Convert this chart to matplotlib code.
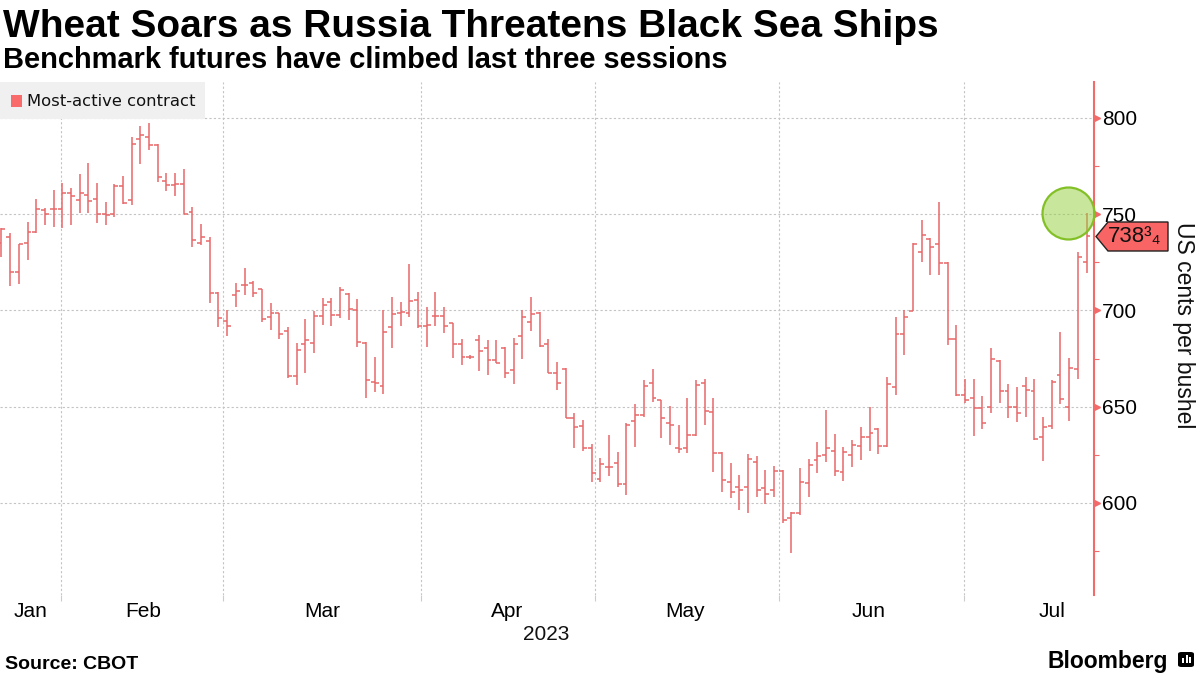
import matplotlib
matplotlib.use('Agg')
import matplotlib.pyplot as plt
from matplotlib.patches import Polygon, Rectangle, FancyBboxPatch
import numpy as np

# ---------------- data (US cents per bushel, most-active CBOT wheat) -------------
opens = [735, 738, 719.8, 735.2, 741, 752.2, 752.7, 752.7, 760.9, 757.4,
         760, 757.8, 750, 750, 764.7, 757.4, 788.9, 790.3, 786.2, 767.3,
         765.2, 765.7, 751.4, 735.2, 736, 708.9, 694.5, 708, 713.2, 714.5,
         711, 696.4, 698.5, 689.5, 666, 682.4, 683.3, 697.1, 704.2, 697.6,
         708.4, 700.3, 683, 663, 661, 691.3, 698.9, 698.9, 705.5, 692,
         697.1, 697.1, 693.7, 682.4, 676, 684.7, 680.4, 674.3, 680.4, 669.1,
         686.8, 694.2, 698.9, 682.4, 667.7, 669.4, 644, 640, 628.4, 612.3,
         618.9, 620.6, 609.9, 642.8, 645.7, 662.2, 653.5, 641.7, 628.4, 628.4,
         635.3, 662.5, 647.4, 625.8, 611.1, 608.5, 608.1, 621.5, 607.6, 606.7,
         616.8, 592, 594.6, 610.6, 622.3, 625, 627.2, 616.3, 625, 629.6,
         634.5, 638.3, 629.6, 660.1, 687.8, 699.9, 730.6, 737, 734.5, 724.8,
         685, 656.1, 654.4, 649.2, 650, 673.9, 658.4, 650, 660.8, 658.4,
         634.1, 640, 666.5, 649.7, 669.4, 725.4]
highs = [742.7, 740.4, 734.5, 746.2, 757.8, 753, 762.6, 766.4, 763.5, 770.7,
         776.8, 766.4, 756.5, 765.7, 770, 790, 795.8, 797.2, 786.3, 771.3,
         771.3, 773.3, 754, 745, 738, 709.8, 700, 714.5, 721.9, 715.5,
         711, 703.7, 698.5, 691.2, 683.3, 695.6, 699.9, 706.3, 706.3, 712.4,
         708.9, 705.8, 683.8, 675.7, 700.3, 706.8, 704.6, 724.2, 709.8, 702,
         709.8, 701.6, 693.7, 685, 677, 687.3, 684.7, 684.7, 681.2, 685.5,
         700.3, 706.8, 699.4, 685, 673.4, 670, 646.9, 643.1, 630.6, 623.2,
         635.3, 626.7, 641.7, 651.4, 663.9, 669.4, 653.5, 650.4, 640.5, 654.4,
         663.9, 664.2, 654.4, 626.7, 621, 614.5, 625.5, 624.4, 617.1, 619.2,
         617.1, 595.5, 618, 622.7, 631.9, 648.3, 635.8, 629.3, 632.7, 639.3,
         650, 638.8, 665.3, 696.8, 700.3, 735.2, 747, 737.5, 756.5, 725.4,
         692.5, 664.2, 664.2, 655.6, 680.4, 674.3, 661.8, 660.1, 665.3, 664.2,
         644.9, 663.9, 689, 675.1, 730.6, 750.5]
lows = [728, 712.7, 714, 726.2, 740.4, 744.4, 743.2, 742.7, 744.4, 750.5,
        750.5, 745.3, 744.4, 748.8, 755.2, 754.8, 776.1, 783.4, 766.9, 762.1,
        759.5, 750.1, 733.2, 734, 703.7, 691.2, 686.7, 702, 708, 706.8,
        694.2, 689.9, 685, 664.8, 661.3, 667.7, 677.7, 692.5, 692, 695.9,
        695, 680.9, 654.4, 657.8, 656.6, 680.4, 692, 696.8, 690.7, 681.2,
        692, 688.5, 675.1, 671.7, 675, 668.7, 666.5, 672.6, 664.8, 661.8,
        674.6, 689.5, 681.2, 667.7, 658.7, 644, 628.4, 627.2, 610.7, 611.1,
        614.2, 608.5, 604.2, 629.3, 644.5, 652.6, 633.6, 630.1, 625.8, 626.1,
        634.8, 640.5, 616.3, 605.9, 602.4, 596.4, 594.6, 602.9, 599.5, 602.9,
        589.4, 573.9, 593.8, 602.9, 615.8, 621.5, 614, 611.6, 618.9, 622.3,
        627.2, 625.5, 629.3, 656.1, 676.9, 699.9, 725.4, 718.4, 718.4, 682.1,
        655.6, 652.1, 634.8, 638.3, 646.6, 652.1, 644, 642.3, 644.9, 632.7,
        622, 638.3, 651.4, 642.8, 664.2, 719.3]
closes = [742.2, 719.8, 734.4, 741, 752.6, 750, 752.7, 760.9, 759.7, 760.9,
          756.9, 750, 749.6, 764.7, 755.7, 786.3, 791.2, 786.2, 769.2, 765.2,
          765.7, 750.1, 736.6, 738.4, 708.9, 695.9, 692, 710.1, 713.2, 709.3,
          695.6, 698.5, 687.6, 666, 679.5, 684.7, 697.1, 702.8, 697.6, 710.6,
          700.6, 683.6, 663.9, 662.2, 689, 698, 699.4, 705, 692, 692.5,
          697.1, 692, 682.4, 676, 676, 679, 674.3, 672.9, 667.7, 682.4,
          696.8, 698.2, 681.6, 667.7, 662.5, 644, 639.6, 628.4, 615.4, 620.3,
          618.9, 609.9, 640.5, 645.7, 660.8, 654.4, 644, 640.5, 627.9, 635.3,
          661.3, 648, 625.8, 612, 605.5, 606.7, 622.7, 606.7, 604.7, 616.8,
          591.2, 595, 611.1, 619.7, 624.4, 628.4, 616.8, 626.7, 630.1, 634.1,
          636.2, 629.6, 661.8, 687.8, 696.5, 734.5, 739.2, 733.2, 724.8, 685,
          656.1, 653.5, 649.2, 641.7, 674.6, 658.4, 649.7, 646.9, 658.7, 633.1,
          639.7, 663, 653.9, 670, 727.6, 738.75]

month_labels = ['Jan', 'Feb', 'Mar', 'Apr', 'May', 'Jun', 'Jul']
month_label_pos = [3.3, 16.3, 36.9, 58.2, 78.7, 99.9, 121.0]   # bar-index units
month_starts = [6.85, 25.5, 48.3, 68.4, 89.6, 110.9]           # bar-index units
year_label = '2023'
y_major = [600, 650, 700, 750, 800]
y_minor = [575, 625, 675, 725, 775]
last_price_label = '738³₄'
highlight_idx, highlight_val = 122.9, 750.5

# ---------------- figure -----------------------------------------------------------
plt.rcParams['font.family'] = ['Liberation Sans', 'DejaVu Sans']
W, H = 1200, 675
fig = plt.figure(figsize=(12, 6.75), dpi=100)
fig.patch.set_facecolor('white')


def fx(x):
    return x / W


def fy(y):
    return 1 - y / H


RED = '#e8686a'
AXRED = '#f26b6b'
GRID = '#c4c4c4'

ax = fig.add_axes([0, fy(595), fx(1094), (595 - 82) / H])
x = np.arange(len(closes))
ax.vlines(x, lows, highs, color=RED, lw=1.1, zorder=3)
ax.hlines(opens, x - 0.45, x, color=RED, lw=1.1, zorder=3)
ax.hlines(closes, x, x + 0.45, color=RED, lw=1.1, zorder=3)

ax.set_xlim(-0.17, 125.86)
ax.set_ylim(552.2, 818.7)

# y axis on the right
ax.yaxis.tick_right()
ax.set_yticks(y_major)
ax.set_yticks(y_minor, minor=True)
ax.set_yticklabels([str(v) for v in y_major])
ax.tick_params(axis='y', which='major', length=0, pad=6, labelsize=15)
ax.tick_params(axis='y', which='minor', length=3.5, width=0.8, color=AXRED)
ax.plot(np.full(len(y_major), 1.0 + 3 / 1094), y_major, ls='none', marker='>',
        ms=5, color=AXRED, transform=ax.get_yaxis_transform(), clip_on=False)
ax.grid(axis='y', which='major', ls=(0, (2, 2)), color=GRID, lw=0.8, zorder=0)

# x axis: month labels centred, gridlines at month starts
ax.set_xticks(month_label_pos)
ax.set_xticklabels(month_labels)
ax.set_xticks(month_starts, minor=True)
ax.tick_params(axis='x', which='major', length=0, pad=5, labelsize=15)
ax.tick_params(axis='x', which='minor', length=4, width=0.8, color='#cccccc')
ax.grid(axis='x', which='minor', ls=(0, (2, 2)), color=GRID, lw=0.8, zorder=0)

for s in ['top', 'left', 'bottom']:
    ax.spines[s].set_visible(False)
ax.spines['right'].set_color(AXRED)
ax.spines['right'].set_linewidth(1.5)

# highlight circle
ax.scatter([highlight_idx], [highlight_val], s=1400, facecolor=(0.58, 0.81, 0.24, 0.5),
           edgecolor='#82c026', linewidth=1.6, zorder=4, clip_on=False)

# legend box
fig.patches.append(Rectangle((fx(0), fy(119)), fx(205), 37 / H, transform=fig.transFigure,
                             facecolor='#f0f0f0', edgecolor='none', zorder=5))
fig.patches.append(Rectangle((fx(11), fy(107)), fx(11), 12 / H, transform=fig.transFigure,
                             facecolor='#f96a6a', edgecolor='none', zorder=6))
fig.text(fx(27), fy(101), 'Most-active contract', fontsize=11.8, va='center', ha='left',
         family=['DejaVu Sans'], color='#111111', zorder=7)

# price tag
tag = Polygon([(fx(1096), fy(236.5)), (fx(1108), fy(222)), (fx(1168), fy(222)),
               (fx(1168), fy(251)), (fx(1108), fy(251))], closed=True,
              transform=fig.transFigure, facecolor='#f96565', edgecolor='#222222',
              linewidth=1.0, zorder=8)
fig.patches.append(tag)
fig.text(fx(1108), fy(237), last_price_label, fontsize=16,
         family=['Liberation Sans Narrow', 'Liberation Sans', 'DejaVu Sans'],
         va='center', ha='left', color='#111111', zorder=9)

# axis titles
fig.text(fx(1183), fy(325), 'US cents per bushel', rotation=270, fontsize=16.5,
         ha='center', va='center', color='#111111')
fig.text(fx(546), fy(635), year_label, fontsize=15, ha='center', va='center', color='#111111')

# title & subtitle
fig.text(fx(3), fy(37), 'Wheat Soars as Russia Threatens Black Sea Ships', fontsize=28,
         fontweight='bold', ha='left', va='baseline', color='black')
fig.text(fx(3), fy(68), 'Benchmark futures have climbed last three sessions', fontsize=20.9,
         fontweight='bold', ha='left', va='baseline', color='black')

# footer
fig.text(fx(5), fy(669), 'Source: CBOT', fontsize=14, fontweight='bold', ha='left',
         va='baseline', color='black')
fig.text(fx(1168), fy(668), 'Bloomberg', fontsize=16.5, fontweight='bold', ha='right',
         va='baseline', color='black')
fig.patches.append(FancyBboxPatch((fx(1178), fy(667)), fx(16), 15 / H,
                                  boxstyle='round,pad=0,rounding_size=0.003',
                                  transform=fig.transFigure, facecolor='black',
                                  edgecolor='none'))
for bx, bh in [(1182, 5), (1185.5, 8), (1189, 6)]:
    fig.patches.append(Rectangle((fx(bx), fy(663)), fx(2), bh / H, transform=fig.transFigure,
                                 facecolor='white', edgecolor='none'))

fig.savefig('out.png', dpi=100)
